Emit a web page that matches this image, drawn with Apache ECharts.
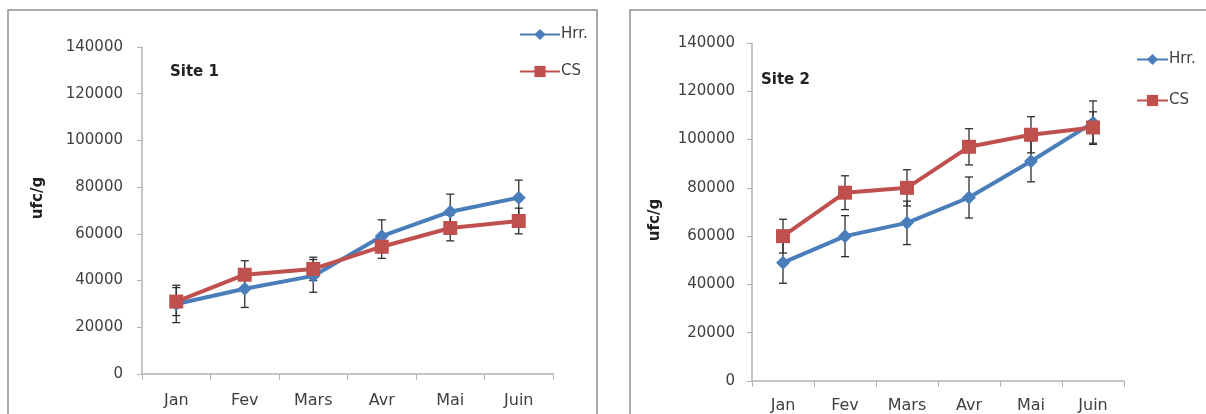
<!DOCTYPE html>
<html>
<head>
<meta charset="utf-8">
<script src="https://cdn.jsdelivr.net/npm/echarts@6/dist/echarts.min.js"></script>
<style>
html,body{margin:0;padding:0;background:#fff;}
#c{width:1206px;height:414px;}
</style>
</head>
<body>
<div id="c"></div>
<script>
var months = ['Jan', 'Fev', 'Mars', 'Avr', 'Mai', 'Juin'];
var yTicks = [0, 20000, 40000, 60000, 80000, 100000, 120000, 140000];
var seriesNames = ['Hrr.', 'CS'];
var panelTitles = ['Site 1', 'Site 2'];
var yAxisTitle = 'ufc/g';

var site1Hrr = [30000, 36500, 42000, 59000, 69500, 75500];
var site1HrrErr = [8000, 8000, 7000, 7000, 7500, 7500];
var site1CS = [31000, 42500, 45000, 54500, 62500, 65500];
var site1CSErr = [6000, 6000, 5000, 5000, 5500, 5500];

var site2Hrr = [49000, 60000, 65500, 76000, 91000, 107000];
var site2HrrErr = [8500, 8500, 9000, 8500, 8500, 9000];
var site2CS = [60000, 78000, 80000, 97000, 102000, 105000];
var site2CSErr = [7000, 7000, 7500, 7500, 7500, 6500];

var BLUE = '#4a7ebb', RED = '#c0504d';
var FONT = 'DejaVu Sans';
var TXT = '#404040';

function errData(vals, errs) {
  return vals.map(function (v, i) { return [i, v - errs[i], v + errs[i]]; });
}
function renderErr(params, api) {
  var i = api.value(0);
  var p1 = api.coord([i, api.value(1)]);
  var p2 = api.coord([i, api.value(2)]);
  var w = 4;
  var st = { stroke: '#2e2e2e', lineWidth: 1.3 };
  return {
    type: 'group',
    children: [
      { type: 'line', shape: { x1: p1[0], y1: p1[1], x2: p2[0], y2: p2[1] }, style: st },
      { type: 'line', shape: { x1: p1[0] - w, y1: p1[1], x2: p1[0] + w, y2: p1[1] }, style: st },
      { type: 'line', shape: { x1: p2[0] - w, y1: p2[1], x2: p2[0] + w, y2: p2[1] }, style: st }
    ]
  };
}
function lineSeries(name, data, idx, color, symbol, size) {
  return {
    type: 'line', name: name, data: data,
    xAxisIndex: idx, yAxisIndex: idx,
    symbol: symbol, symbolSize: size,
    lineStyle: { color: color, width: 4 },
    itemStyle: { color: color },
    z: 3, animation: false
  };
}
function errSeries(name, vals, errs, idx) {
  return {
    type: 'custom', name: name + ' err', xAxisIndex: idx, yAxisIndex: idx,
    data: errData(vals, errs), renderItem: renderErr, z: 2,
    encode: { x: 0, y: [1, 2] }, animation: false, silent: true
  };
}
function xAxis(idx, margin) {
  return {
    type: 'category', gridIndex: idx, data: months, boundaryGap: true,
    axisLine: { show: true, lineStyle: { color: '#b3b3b3', width: 1.5 } },
    axisTick: { show: true, length: 6, alignWithLabel: false, lineStyle: { color: '#b3b3b3' } },
    axisLabel: { color: TXT, fontFamily: FONT, fontSize: 16, margin: margin }
  };
}
function yAxis(idx, margin) {
  return {
    type: 'value', gridIndex: idx, min: yTicks[0], max: yTicks[yTicks.length - 1], interval: yTicks[1] - yTicks[0],
    axisLine: { show: true, lineStyle: { color: '#b3b3b3', width: 1.5 } },
    axisTick: { show: true, length: 5, lineStyle: { color: '#b3b3b3' } },
    splitLine: { show: false },
    axisLabel: { color: TXT, fontFamily: FONT, fontSize: 15, margin: margin,
      formatter: function (v) { return String(v); } }
  };
}

var chart = echarts.init(document.getElementById('c'), null, { renderer: 'canvas' });
chart.setOption({
  backgroundColor: '#fff',
  animation: false,
  grid: [
    { left: 142, top: 47, width: 411, height: 327 },
    { left: 752, top: 43, width: 372, height: 339 }
  ],
  xAxis: [xAxis(0, 19), xAxis(1, 17)],
  yAxis: [yAxis(0, 19), yAxis(1, 17)],
  legend: [
    { data: seriesNames, orient: 'vertical', left: 514, top: 22, itemWidth: 40, itemHeight: 14, itemGap: 22,
      textStyle: { color: TXT, fontFamily: FONT, fontSize: 15, padding: [0, 0, 0, -4] }, selectedMode: false },
    { data: seriesNames, orient: 'vertical', left: 1131, top: 47, itemWidth: 31, itemHeight: 14, itemGap: 26,
      textStyle: { color: TXT, fontFamily: FONT, fontSize: 15, padding: [0, 0, 0, -4] }, selectedMode: false }
  ],
  graphic: [
    { type: 'rect', shape: { x: 8, y: 10, width: 589, height: 420 }, style: { fill: 'none', stroke: '#8f8f8f', lineWidth: 1.5 }, z: -1 },
    { type: 'rect', shape: { x: 630, y: 10, width: 600, height: 420 }, style: { fill: 'none', stroke: '#8f8f8f', lineWidth: 1.5 }, z: -1 },
    { type: 'text', left: 170, top: 65, style: { text: panelTitles[0], fill: '#222', font: 'bold 15px "DejaVu Sans"' } },
    { type: 'text', left: 761, top: 73, style: { text: panelTitles[1], fill: '#222', font: 'bold 15px "DejaVu Sans"' } },
    { type: 'text', x: 38, y: 198, rotation: Math.PI / 2, style: { text: yAxisTitle, fill: '#222', font: 'bold 15px "DejaVu Sans"', align: 'center', verticalAlign: 'middle' } },
    { type: 'text', x: 655, y: 220, rotation: Math.PI / 2, style: { text: yAxisTitle, fill: '#222', font: 'bold 15px "DejaVu Sans"', align: 'center', verticalAlign: 'middle' } }
  ],
  series: [
    errSeries(seriesNames[0], site1Hrr, site1HrrErr, 0),
    errSeries(seriesNames[1], site1CS, site1CSErr, 0),
    lineSeries(seriesNames[0], site1Hrr, 0, BLUE, 'diamond', 14),
    lineSeries(seriesNames[1], site1CS, 0, RED, 'rect', 14),
    errSeries(seriesNames[0], site2Hrr, site2HrrErr, 1),
    errSeries(seriesNames[1], site2CS, site2CSErr, 1),
    lineSeries(seriesNames[0], site2Hrr, 1, BLUE, 'diamond', 14),
    lineSeries(seriesNames[1], site2CS, 1, RED, 'rect', 14)
  ]
});
</script>
</body>
</html>
